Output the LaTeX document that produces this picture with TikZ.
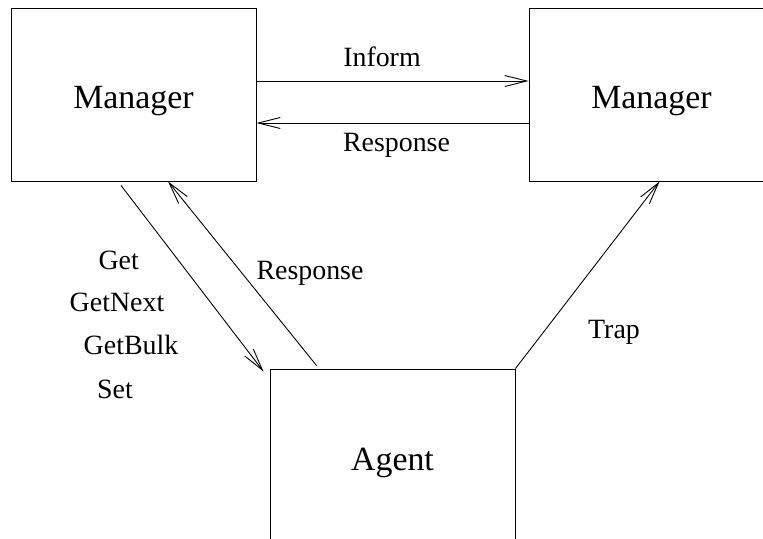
\documentclass[tikz,border=0pt]{standalone}
\usepackage{fontspec}
\setmainfont{Liberation Serif}
\usetikzlibrary{arrows.meta}
\tikzset{
  box/.style={draw, minimum width=245bp, minimum height=173bp, inner sep=0pt,
              text height=29bp, text depth=0pt, font=\fontsize{34}{40}\selectfont},
  msg/.style={inner sep=0pt, font=\fontsize{28}{32}\selectfont},
}
\begin{document}
\begin{tikzpicture}[x=1bp, y=-1bp, line width=0.9bp, >={Straight Barb[length=22bp,width=11bp]}]
  \useasboundingbox (0,0) rectangle (763,539);
  % the two managers and the agent
  \node[box] (lm) at (133.5,94.5) {Manager};
  \node[box] (rm) at (651.5,94.5) {Manager};
  \node[box] (ag) at (392.5,455.5) {Agent};
  % manager to manager
  \draw[->] ([yshift=13.5bp]lm.east) -- ([yshift=13.5bp]rm.west);
  \draw[->] ([yshift=-28.5bp]rm.west) -- ([yshift=-28.5bp]lm.east);
  \node[msg] (inform) at (382,57) {Inform};
  \node[msg] (resp1) at (396.5,145) {Response};
  % requests and the answer
  \draw[->] ([shift={(-12.5,4)}]lm.south) -- ([shift={(-6,3)}]ag.north west);
  \draw[->] ([shift={(47,-3)}]ag.north west) -- ([xshift=34.5bp]lm.south);
  \node[msg] (get) at (118.7,260) {Get};
  \node[msg] (getnext) at (117,302) {GetNext};
  \node[msg] (getbulk) at (131,345) {GetBulk};
  \node[msg] (set) at (115,389) {Set};
  \node[msg] (resp2) at (310,273) {Response};
  % the trap
  \draw[->] (ag.north east) -- ([xshift=131bp]rm.south west);
  \node[msg] (trap) at (614,332) {Trap};
\end{tikzpicture}
\end{document}
